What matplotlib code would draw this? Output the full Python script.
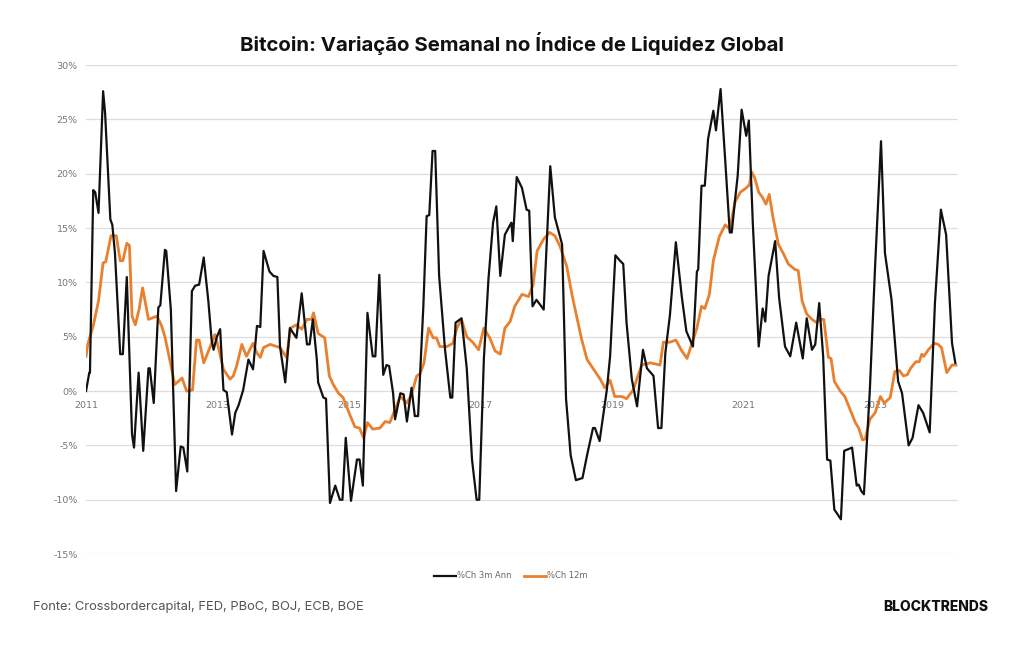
import matplotlib.pyplot as plt
from matplotlib.lines import Line2D

# %Ch 3m Ann (black)
years_3m = [2011.00, 2011.05, 2011.06, 2011.11, 2011.14, 2011.19, 2011.26, 2011.29, 2011.37, 2011.40,
            2011.44, 2011.52, 2011.56, 2011.62, 2011.70, 2011.73, 2011.80, 2011.87, 2011.95, 2011.97,
            2012.03, 2012.10, 2012.13, 2012.20, 2012.22, 2012.29, 2012.37, 2012.44, 2012.48, 2012.54,
            2012.61, 2012.66, 2012.72, 2012.79, 2012.86, 2012.91, 2012.94, 2012.99, 2013.04, 2013.09,
            2013.14, 2013.22, 2013.27, 2013.32, 2013.39, 2013.47, 2013.54, 2013.60, 2013.65, 2013.70,
            2013.79, 2013.85, 2013.91, 2013.95, 2014.03, 2014.10, 2014.20, 2014.28, 2014.36, 2014.40,
            2014.45, 2014.51, 2014.53, 2014.61, 2014.65, 2014.71, 2014.79, 2014.86, 2014.90, 2014.95,
            2015.03, 2015.12, 2015.16, 2015.21, 2015.28, 2015.36, 2015.40, 2015.46, 2015.52, 2015.57,
            2015.61, 2015.67, 2015.70, 2015.78, 2015.83, 2015.88, 2015.95, 2016.00, 2016.05, 2016.13,
            2016.18, 2016.22, 2016.27, 2016.31, 2016.37, 2016.46, 2016.54, 2016.57, 2016.62, 2016.71,
            2016.79, 2016.87, 2016.94, 2016.98, 2017.05, 2017.12, 2017.19, 2017.24, 2017.30, 2017.37,
            2017.45, 2017.47, 2017.49, 2017.55, 2017.63, 2017.70, 2017.74, 2017.79, 2017.85, 2017.90,
            2017.96, 2018.06, 2018.13, 2018.24, 2018.30, 2018.37, 2018.45, 2018.55, 2018.62, 2018.71,
            2018.74, 2018.81, 2018.92, 2018.97, 2019.05, 2019.12, 2019.17, 2019.22, 2019.30, 2019.38,
            2019.47, 2019.53, 2019.63, 2019.70, 2019.75, 2019.81, 2019.88, 2019.97, 2020.06, 2020.13,
            2020.23, 2020.29, 2020.31, 2020.36, 2020.41, 2020.46, 2020.54, 2020.58, 2020.65, 2020.72,
            2020.79, 2020.82, 2020.87, 2020.91, 2020.97, 2021.04, 2021.08, 2021.14, 2021.23, 2021.29,
            2021.33, 2021.38, 2021.48, 2021.54, 2021.63, 2021.71, 2021.80, 2021.90, 2021.96, 2022.04,
            2022.09, 2022.15, 2022.21, 2022.27, 2022.32, 2022.38, 2022.48, 2022.53, 2022.65, 2022.72,
            2022.75, 2022.79, 2022.83, 2022.92, 2023.00, 2023.09, 2023.15, 2023.25, 2023.35, 2023.41,
            2023.51, 2023.57, 2023.66, 2023.73, 2023.83, 2023.91, 2024.00, 2024.08, 2024.17, 2024.22]
ch_3m = [0.0, 1.7, 1.7, 18.5, 18.3, 16.4, 27.6, 25.6, 15.8, 15.3,
         12.7, 3.4, 3.4, 10.5, -4.0, -5.2, 1.7, -5.5, 2.1, 2.1,
         -1.1, 7.7, 7.9, 13.0, 12.9, 7.5, -9.2, -5.1, -5.2, -7.4,
         9.2, 9.7, 9.8, 12.3, 8.3, 4.7, 3.8, 5.0, 5.7, 0.1,
         -0.1, -4.0, -2.0, -1.3, 0.1, 2.9, 2.0, 6.0, 5.9, 12.9,
         11.0, 10.6, 10.5, 4.1, 0.8, 5.8, 4.9, 9.0, 4.3, 4.3,
         6.6, 2.9, 0.8, -0.6, -0.7, -10.3, -8.7, -10.0, -10.0, -4.3,
         -10.1, -6.3, -6.3, -8.7, 7.2, 3.2, 3.2, 10.7, 1.5, 2.4,
         2.3, -0.2, -2.6, -0.2, -0.3, -2.8, 0.3, -2.3, -2.3, 7.8,
         16.1, 16.2, 22.1, 22.1, 10.6, 3.8, -0.6, -0.6, 6.3, 6.7,
         2.1, -6.3, -10.0, -10.0, 2.9, 10.3, 15.5, 17.0, 10.6, 14.4,
         15.3, 15.5, 13.8, 19.7, 18.7, 16.7, 16.6, 7.8, 8.4, 8.0,
         7.5, 20.7, 16.0, 13.5, -0.7, -5.9, -8.2, -8.0, -5.9, -3.4,
         -3.4, -4.6, 0.1, 3.2, 12.5, 12.0, 11.7, 6.3, 1.1, -1.4,
         3.8, 2.1, 1.4, -3.4, -3.4, 3.5, 7.0, 13.7, 8.7, 5.5,
         4.1, 11.0, 11.2, 18.9, 18.9, 23.2, 25.8, 24.0, 27.8, 21.3,
         14.6, 14.6, 17.6, 19.8, 25.9, 23.5, 24.9, 15.5, 4.1, 7.6,
         6.4, 10.6, 13.8, 8.6, 4.1, 3.2, 6.3, 3.0, 6.7, 3.8,
         4.3, 8.1, 3.2, -6.3, -6.4, -10.9, -11.8, -5.5, -5.2, -8.7,
         -8.6, -9.2, -9.5, 0.1, 11.5, 23.0, 12.7, 8.4, 0.9, -0.2,
         -5.0, -4.3, -1.3, -2.0, -3.8, 8.1, 16.7, 14.4, 4.4, 2.6]

# %Ch 12m (orange)
years_12m = [2011.00, 2011.03, 2011.11, 2011.19, 2011.26, 2011.30, 2011.38, 2011.46, 2011.52, 2011.56,
             2011.62, 2011.66, 2011.70, 2011.75, 2011.81, 2011.86, 2011.95, 2012.08, 2012.15, 2012.20,
             2012.28, 2012.35, 2012.46, 2012.53, 2012.62, 2012.68, 2012.72, 2012.79, 2012.89, 2012.96,
             2013.01, 2013.09, 2013.19, 2013.24, 2013.29, 2013.37, 2013.44, 2013.54, 2013.60, 2013.65,
             2013.70, 2013.80, 2013.95, 2014.05, 2014.11, 2014.20, 2014.28, 2014.36, 2014.43, 2014.46,
             2014.53, 2014.63, 2014.70, 2014.76, 2014.84, 2014.91, 2015.02, 2015.09, 2015.16, 2015.22,
             2015.28, 2015.36, 2015.47, 2015.55, 2015.62, 2015.70, 2015.78, 2015.88, 2015.95, 2016.03,
             2016.08, 2016.14, 2016.21, 2016.28, 2016.33, 2016.38, 2016.49, 2016.58, 2016.64, 2016.71,
             2016.79, 2016.88, 2016.97, 2017.05, 2017.14, 2017.22, 2017.30, 2017.37, 2017.45, 2017.52,
             2017.63, 2017.73, 2017.80, 2017.86, 2017.96, 2018.05, 2018.13, 2018.21, 2018.31, 2018.39,
             2018.46, 2018.54, 2018.62, 2018.72, 2018.82, 2018.89, 2018.97, 2019.04, 2019.15, 2019.22,
             2019.32, 2019.45, 2019.58, 2019.73, 2019.78, 2019.88, 2019.97, 2020.06, 2020.14, 2020.21,
             2020.29, 2020.36, 2020.41, 2020.48, 2020.54, 2020.63, 2020.72, 2020.79, 2020.87, 2020.95,
             2021.04, 2021.09, 2021.12, 2021.17, 2021.23, 2021.29, 2021.34, 2021.39, 2021.45, 2021.53,
             2021.61, 2021.68, 2021.78, 2021.83, 2021.89, 2021.96, 2022.04, 2022.11, 2022.16, 2022.22,
             2022.29, 2022.33, 2022.38, 2022.47, 2022.54, 2022.62, 2022.70, 2022.75, 2022.81, 2022.85,
             2022.92, 2023.00, 2023.08, 2023.14, 2023.23, 2023.30, 2023.37, 2023.43, 2023.49, 2023.54,
             2023.62, 2023.67, 2023.71, 2023.74, 2023.81, 2023.90, 2023.96, 2024.01, 2024.09, 2024.17,
             2024.23]
ch_12m = [3.2, 4.4, 6.0, 8.3, 11.8, 11.9, 14.3, 14.3, 12.0, 12.0,
          13.6, 13.4, 6.9, 6.1, 7.6, 9.5, 6.6, 6.9, 6.0, 5.0,
          2.7, 0.6, 1.2, 0.0, 0.1, 4.7, 4.7, 2.6, 4.1, 5.2,
          4.1, 2.0, 1.1, 1.4, 2.3, 4.3, 3.2, 4.4, 3.5, 3.1,
          4.0, 4.3, 4.0, 3.1, 5.8, 6.1, 5.7, 6.6, 6.6, 7.2,
          5.3, 4.9, 1.4, 0.6, -0.2, -0.6, -2.3, -3.3, -3.4, -4.3,
          -2.9, -3.5, -3.4, -2.8, -2.9, -1.7, -0.5, -1.1, -0.3, 1.4,
          1.6, 2.6, 5.8, 4.9, 4.9, 4.1, 4.1, 4.4, 5.8, 6.6,
          5.0, 4.5, 3.8, 5.8, 4.9, 3.7, 3.4, 5.8, 6.4, 7.8,
          8.9, 8.7, 9.8, 12.9, 14.0, 14.6, 14.3, 13.3, 11.5, 8.9,
          6.9, 4.7, 2.9, 2.0, 1.1, 0.3, 1.0, -0.5, -0.5, -0.7,
          0.1, 2.4, 2.6, 2.4, 4.5, 4.5, 4.7, 3.7, 3.0, 4.3,
          5.8, 7.8, 7.6, 8.9, 12.0, 14.2, 15.3, 14.9, 17.4, 18.3,
          18.7, 19.0, 20.2, 19.6, 18.3, 17.8, 17.2, 18.1, 15.9, 13.5,
          12.6, 11.7, 11.2, 11.1, 8.3, 7.1, 6.6, 6.3, 6.6, 6.6,
          3.1, 3.0, 0.9, 0.0, -0.5, -1.7, -2.9, -3.4, -4.5, -4.4,
          -2.6, -2.0, -0.5, -1.1, -0.6, 1.8, 1.9, 1.4, 1.5, 2.1,
          2.7, 2.7, 3.4, 3.2, 3.8, 4.4, 4.3, 4.0, 1.7, 2.4,
          2.4]

tick_years = [2011, 2013, 2015, 2017, 2019, 2021, 2023]
y_ticks = [30, 25, 20, 15, 10, 5, 0, -5, -10, -15]

black = '#111111'
orange = '#E8802F'

fig = plt.figure(figsize=(10.24, 6.45), dpi=100)
ax = fig.add_axes([0.084, 0.141, 0.8515, 0.758])

ax.plot(years_3m, ch_3m, color=black, lw=1.6, label='%Ch 3m Ann', zorder=3)
ax.plot(years_12m, ch_12m, color=orange, lw=2.0, label='%Ch 12m', zorder=2)

ax.set_xlim(2011.0, 2024.26)
ax.set_ylim(-15, 30)
ax.set_yticks(y_ticks)
ax.set_yticklabels([f'{v}%' for v in y_ticks])
ax.set_xticks(tick_years)
ax.set_xticklabels([str(y) for y in tick_years])
ax.grid(axis='y', color='#dedede', lw=0.9)
ax.set_axisbelow(True)
for s in ax.spines.values():
    s.set_visible(False)
# year labels sit just under the zero line, Excel style
ax.spines['bottom'].set_position(('data', 0))
ax.tick_params(axis='both', length=0, labelsize=6.8, labelcolor='#777777')
ax.tick_params(axis='y', pad=6)
ax.tick_params(axis='x', pad=7)

handles = [Line2D([], [], color=black, lw=1.6), Line2D([], [], color=orange, lw=2.0)]
fig.legend(handles, ['%Ch 3m Ann', '%Ch 12m'], loc='center', bbox_to_anchor=(0.499, 0.107),
           ncol=2, frameon=False, fontsize=6.0, labelcolor='#666666',
           handlelength=2.6, handletextpad=0.15, columnspacing=1.5)

fig.text(0.5, 0.933, 'Bitcoin: Variação Semanal no Índice de Liquidez Global',
         ha='center', va='center', fontsize=14.7, fontweight='bold', family='Inter', color='#111111')
fig.text(0.032, 0.059, 'Fonte: Crossbordercapital, FED, PBoC, BOJ, ECB, BOE',
         ha='left', va='center', fontsize=9.3, family='Inter', color='#555555')
fig.text(0.965, 0.059, 'BLOCKTRENDS', ha='right', va='center', fontsize=10,
         fontweight='heavy', family='Inter', color='#111111')

fig.savefig('out.png', dpi=100)
